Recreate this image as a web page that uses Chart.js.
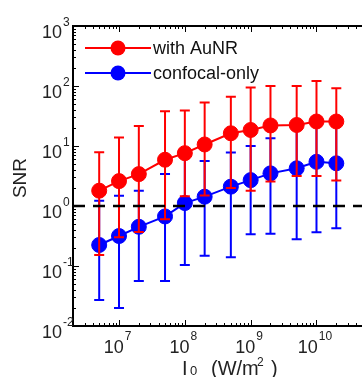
<!DOCTYPE html>
<html><head><meta charset="utf-8">
<script src="https://cdn.jsdelivr.net/npm/chart.js@4.4.1/dist/chart.umd.min.js"></script>
<style>
html,body{margin:0;padding:0;background:#fff;overflow:hidden;width:362px;height:377px;}
#wrap{position:absolute;left:0;top:0;width:371px;height:377px;}
</style></head><body>
<div id="wrap"><canvas id="c" width="371" height="377"></canvas></div>
<script>
// ---- data ----
const intensity = [5e6, 1e7, 2e7, 5e7, 1e8, 2e8, 5e8, 1e9, 2e9, 5e9, 1e10, 2e10];
const snrAuNR      = [1.8, 2.6, 3.4, 5.9, 7.6, 10.6, 16.3, 18.5, 22, 22.4, 25.6, 25.6];
const snrAuNRUpper = [7.9, 13.8, 21.5, 38, 39, 53, 66, 94, 100, 100, 121, 92];
const snrAuNRLower = [0.153, 0.3, 0.37, 0.6, 1.45, 1.5, 2.0, 1.8, 2.55, 3.15, 3.15, 2.65];
const snrConfocal      = [0.224, 0.316, 0.45, 0.67, 1.12, 1.43, 2.1, 2.7, 3.5, 4.25, 5.45, 5.15];
const snrConfocalUpper = [1.22, 1.48, 1.8, 3.4, 7.5, 5.6, 7.8, 10, 13.4, 21, 25, 24];
const snrConfocalLower = [0.027, 0.020, 0.056, 0.056, 0.104, 0.148, 0.14, 0.338, 0.345, 0.28, 0.364, 0.425];
const seriesLabels = ['with AuNR', 'confocal-only'];
const thresholdX = [2e6, 5e10];
const thresholdY = [1, 1];
const xRange = [2e6, 5e10];
const yRange = [1e-2, 1e3];
const xTickExponents = [7, 8, 9, 10];
const yTickExponents = [-2, -1, 0, 1, 2, 3];
const xTitleParts = ['I', '0', '(W/m', '2', ')'];
const yTitle = 'SNR';

const RED = '#ff0000', BLUE = '#0000ff';
const FONT = '"Liberation Sans", Arial, Helvetica, sans-serif';

const toXY = (xs, ys) => xs.map((v, i) => ({x: v, y: ys[i]}));

const errorBars = {
  1: {hi: snrAuNRUpper, lo: snrAuNRLower, color: RED},
  2: {hi: snrConfocalUpper, lo: snrConfocalLower, color: BLUE}
};

const matlabLook = {
  id: 'matlabLook',
  beforeDatasetDraw(chart, args) {
    const eb = errorBars[args.index];
    if (!eb) return;
    const {ctx} = chart;
    const x = chart.scales.x, y = chart.scales.y;
    ctx.save();
    ctx.strokeStyle = eb.color;
    ctx.lineWidth = 2;
    intensity.forEach((v, i) => {
      const px = x.getPixelForValue(v);
      const y1 = y.getPixelForValue(eb.hi[i]);
      const y2 = y.getPixelForValue(eb.lo[i]);
      ctx.beginPath();
      ctx.moveTo(px, y1); ctx.lineTo(px, y2);
      ctx.moveTo(px - 5, y1); ctx.lineTo(px + 5, y1);
      ctx.moveTo(px - 5, y2); ctx.lineTo(px + 5, y2);
      ctx.stroke();
    });
    ctx.restore();
  },
  afterDraw(chart) {
    const {ctx, chartArea} = chart;
    const {left, right, top, bottom} = chartArea;
    const x = chart.scales.x, y = chart.scales.y;
    ctx.save();
    // minor / major ticks (inward)
    ctx.strokeStyle = '#000';
    ctx.lineWidth = 1;
    ctx.beginPath();
    for (let e = 6; e <= 10; e++) {
      for (let m = 1; m <= 9; m++) {
        const v = m * Math.pow(10, e);
        if (v < xRange[0] || v > xRange[1]) continue;
        const px = Math.round(x.getPixelForValue(v)) + 0.5;
        const len = m === 1 ? 6 : 3;
        ctx.moveTo(px, bottom); ctx.lineTo(px, bottom - len);
        ctx.moveTo(px, top); ctx.lineTo(px, top + len);
      }
    }
    for (let e = -2; e <= 2; e++) {
      for (let m = 1; m <= 9; m++) {
        const v = m * Math.pow(10, e);
        const py = Math.round(y.getPixelForValue(v)) + 0.5;
        const len = m === 1 ? 6 : 3;
        ctx.moveTo(left, py); ctx.lineTo(left + len, py);
      }
    }
    ctx.stroke();
    // axis box
    ctx.lineWidth = 2;
    ctx.beginPath();
    ctx.moveTo(right + 2, top); ctx.lineTo(left, top);
    ctx.lineTo(left, bottom); ctx.lineTo(right + 2, bottom);
    ctx.stroke();

    // tick labels
    ctx.fillStyle = '#222';
    ctx.textBaseline = 'alphabetic';
    const baseFont = '18px ' + FONT, expFont = '12px ' + FONT;
    yTickExponents.forEach(e => {
      const py = y.getPixelForValue(Math.pow(10, e));
      ctx.font = baseFont; ctx.textAlign = 'right';
      ctx.fillText('10', 62, py + 11.5);
      ctx.font = expFont; ctx.textAlign = 'left';
      ctx.fillText(String(e), 63, py - 0.5);
    });
    xTickExponents.forEach(e => {
      const px = x.getPixelForValue(Math.pow(10, e));
      ctx.font = baseFont; const wb = ctx.measureText('10').width;
      ctx.font = expFont; const we = ctx.measureText(String(e)).width;
      const x0 = px - (wb + we) / 2 - 2;
      ctx.textAlign = 'left';
      ctx.font = baseFont; ctx.fillText('10', x0, 353);
      ctx.font = expFont; ctx.fillText(String(e), x0 + wb + 1, 340);
    });

    // axis titles
    ctx.font = '20px ' + FONT;
    ctx.textAlign = 'left';
    ctx.fillText(xTitleParts[0], 182, 375);
    ctx.font = '13px ' + FONT;
    ctx.fillText(xTitleParts[1], 190, 375);
    ctx.font = '20px ' + FONT;
    ctx.fillText(xTitleParts[2], 211, 375);
    ctx.font = '12px ' + FONT;
    ctx.fillText(xTitleParts[3], 257, 366);
    ctx.font = '20px ' + FONT;
    ctx.fillText(xTitleParts[4], 271, 375);

    ctx.save();
    ctx.translate(21, 178);
    ctx.rotate(-Math.PI / 2);
    ctx.font = '19px ' + FONT;
    ctx.textAlign = 'center';
    ctx.textBaseline = 'middle';
    ctx.fillText(yTitle, 0, 0);
    ctx.restore();

    // legend
    const items = [{label: chart.data.datasets[1].label, color: RED, cy: 48},
                   {label: chart.data.datasets[2].label, color: BLUE, cy: 73}];
    items.forEach(it => {
      ctx.strokeStyle = it.color; ctx.lineWidth = 2;
      ctx.beginPath(); ctx.moveTo(85, it.cy); ctx.lineTo(151, it.cy); ctx.stroke();
      ctx.fillStyle = it.color;
      ctx.beginPath(); ctx.arc(118, it.cy, 7.5, 0, Math.PI * 2); ctx.fill();
      ctx.fillStyle = '#111';
      ctx.font = '18px ' + FONT; ctx.textAlign = 'left'; ctx.textBaseline = 'alphabetic';
      ctx.fillText(it.label, 153, it.cy + 6);
    });
    ctx.restore();
  }
};

new Chart(document.getElementById('c'), {
  type: 'line',
  data: {
    datasets: [
      {label: 'threshold', data: toXY(thresholdX, thresholdY), borderColor: '#000', borderWidth: 2.5,
       borderDash: [12, 8], pointRadius: 0, fill: false},
      {label: seriesLabels[0], data: toXY(intensity, snrAuNR), borderColor: RED, backgroundColor: RED,
       borderWidth: 2, pointRadius: 7.5, pointBorderWidth: 1, pointBackgroundColor: RED, pointBorderColor: RED, fill: false},
      {label: seriesLabels[1], data: toXY(intensity, snrConfocal), borderColor: BLUE, backgroundColor: BLUE,
       borderWidth: 2, pointRadius: 7.5, pointBorderWidth: 1, pointBackgroundColor: BLUE, pointBorderColor: BLUE, fill: false}
    ]
  },
  options: {
    responsive: false,
    animation: false,
    devicePixelRatio: 1,
    layout: {padding: {left: 73, top: 26, right: 0, bottom: 51}},
    plugins: {legend: {display: false}, tooltip: {enabled: false}},
    elements: {line: {tension: 0}},
    scales: {
      x: {type: 'logarithmic', min: xRange[0], max: xRange[1], display: false},
      y: {type: 'logarithmic', min: yRange[0], max: yRange[1], display: false}
    }
  },
  plugins: [matlabLook]
});
</script>
</body></html>
